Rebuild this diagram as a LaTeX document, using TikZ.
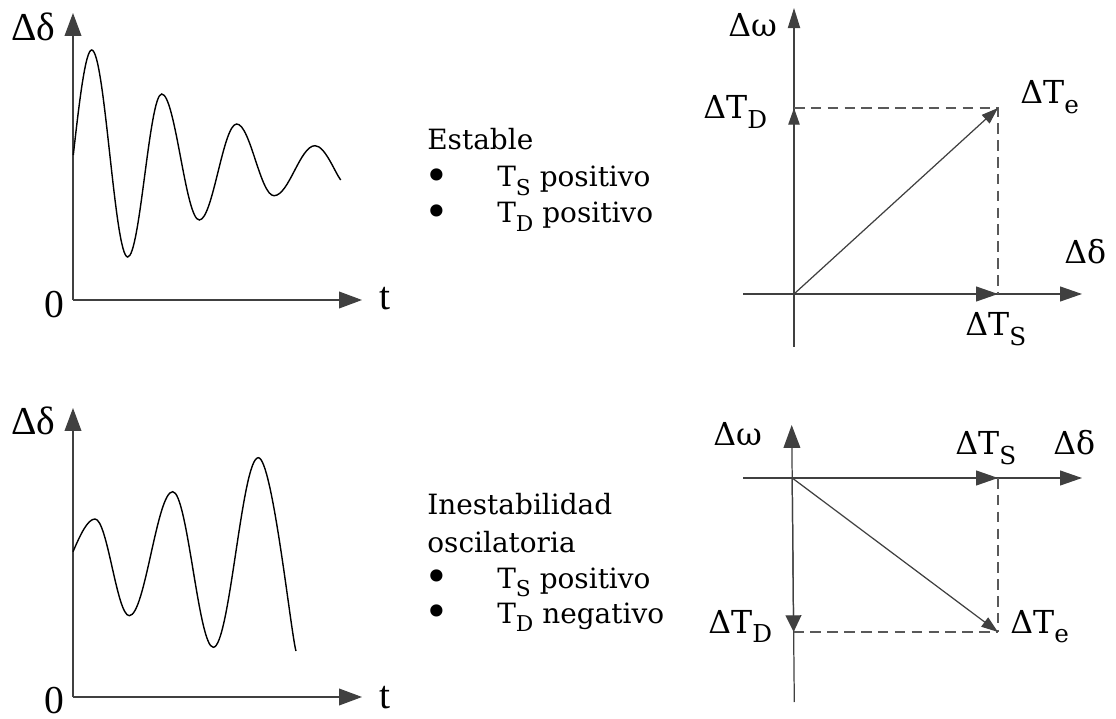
\documentclass[tikz,border=0pt]{standalone}
\usepackage{fontspec}
\setmainfont{DejaVu Serif}
\newfontfamily\tnr{Liberation Serif}
\usetikzlibrary{arrows.meta}
\newcommand{\sbs}[1]{\raisebox{-0.3em}{\scalebox{0.78}{#1}}}
\newcommand{\bul}{\smash{\raisebox{-0.12em}{\scalebox{1.5}{•}}}}
\tikzset{
  axis/.style={draw=black!75, line width=0.7pt},
  tipbig/.style={-{Triangle[length=13pt,width=9.5pt]}},
  tipmid/.style={-{Triangle[length=12.5pt,width=8.5pt]}},
  tipthin/.style={-{Triangle[length=11.5pt,width=7pt]}},
  tipsmall/.style={-{Triangle[length=9.5pt,width=6.5pt]}},
  tipdown/.style={-{Triangle[length=9.5pt,width=9pt]}},
  proj/.style={draw=black!65, line width=0.7pt, dash pattern=on 6pt off 3.6pt},
  curve/.style={draw=black, line width=0.8pt},
  txt/.style={anchor=base west, inner sep=0pt, font=\fontsize{15.9}{19}\selectfont},
  lbl/.style={anchor=base west, inner sep=0pt, font=\fontsize{18}{21}\selectfont},
  glbl/.style={anchor=base west, inner sep=0pt, font=\tnr\fontsize{22.5}{25}\selectfont}
}

\begin{document}
\begin{tikzpicture}[x=0.02cm, y=-0.02cm]
\useasboundingbox (0,0) rectangle (1116,719);

%% time response, stable
\coordinate (oa) at (73,300);
\coordinate (ya) at (73,13);
\coordinate (xa) at (362,300);
\path[axis, tipbig] (oa) -- (ya);
\path[axis, tipbig] (oa) -- (xa);
\node[glbl] (da) at (11,41) {Δδ};
\node[glbl] (za) at (44,318) {0};
\node[glbl] (ta) at (379,310) {t};
\draw[curve] (73.3,155) .. controls +(6.1,-54.4) and +(-6.2,0) .. (91.7,50)
  .. controls +(13.1,0) and +(-13.1,0) .. (127.7,257)
  .. controls +(12.4,0) and +(-12.4,0) .. (161.7,94)
  .. controls +(13.7,0) and +(-13.7,0) .. (199.3,220)
  .. controls +(13.6,0) and +(-13.6,0) .. (236.7,124)
  .. controls +(13.6,0) and +(-13.6,0) .. (274,195.7)
  .. controls +(14.9,0) and +(-14.9,0) .. (315,145.7)
  .. controls +(10,0) and +(-6,-8) .. (340.7,180);

%% time response, oscillatory instability
\coordinate (ob) at (73,697);
\coordinate (yb) at (73,408);
\coordinate (xb) at (362,697);
\path[axis, tipbig] (ob) -- (yb);
\path[axis, tipbig] (ob) -- (xb);
\node[glbl] (db) at (11,435) {Δδ};
\node[glbl] (zb) at (44,713) {0};
\node[glbl] (tb) at (379,708) {t};
\draw[curve] (73,551.7) .. controls +(7.3,-16.9) and +(-7.4,0) .. (95,519)
  .. controls +(12.5,0) and +(-12.5,0) .. (129.3,615.7)
  .. controls +(15.8,0) and +(-15.8,0) .. (172.7,491.7)
  .. controls +(14.8,0) and +(-14.8,0) .. (213.3,647.3)
  .. controls +(16.4,0) and +(-16.4,0) .. (258.3,457.7)
  .. controls +(14,0) and +(-5,-17) .. (296,651);

%% captions
\node[txt] (est) at (427,150) {Estable};
\node[txt] (ea) at (424,187) {\bul};
\node[txt] (eb) at (424,223) {\bul};
\node[txt] (es) at (497,187) {T\sbs{S} positivo};
\node[txt] (ed) at (497,223) {T\sbs{D} positivo};

\node[txt] (ins) at (427,515) {Inestabilidad};
\node[txt] (osc) at (427,552) {oscilatoria};
\node[txt] (ia) at (424,588) {\bul};
\node[txt] (ib) at (424,623) {\bul};
\node[txt] (is) at (497,588) {T\sbs{S} positivo};
\node[txt] (id) at (497,623) {T\sbs{D} negativo};

%% phasor, stable
\coordinate (oc) at (794,294);
\coordinate (wc) at (794,8);
\coordinate (wc0) at (794,347);
\coordinate (dc) at (1082,294);
\coordinate (dc0) at (743,294);
\coordinate (sc) at (998,294);
\coordinate (tc) at (794,108);
\coordinate (ec) at (998,108);
\path[axis, tipthin] (wc0) -- (wc);
\path[axis, tipmid] (dc0) -- (dc);
\path[axis, tipmid] (oc) -- (sc);
\path[axis, tipsmall] (oc) -- (tc);
\path[proj] (tc) -- (ec) -- (sc);
\path[axis, tipsmall] (oc) -- (ec);
\node[lbl] (lwc) at (728,37) {Δω};
\node[lbl] (ltc) at (703,119) {ΔT\sbs{D}};
\node[lbl] (lec) at (1020,104) {ΔT\sbs{e}};
\node[lbl] (ldc) at (1064,264) {Δδ};
\node[lbl] (lsc) at (965,336) {ΔT\sbs{S}};

%% phasor, unstable
\coordinate (od) at (792.2,478);
\coordinate (wd) at (791.7,425);
\coordinate (wd0) at (794.3,702);
\coordinate (dd) at (1082,478);
\coordinate (dd0) at (743,478);
\coordinate (sd) at (998,478);
\coordinate (td) at (793.6,632);
\coordinate (ed) at (998,632);
\path[axis, tipbig] (wd0) -- (wd);
\path[axis, tipmid] (dd0) -- (dd);
\path[axis, tipmid] (od) -- (sd);
\path[axis, tipdown] (od) -- (td);
\path[proj] (td) -- (ed);
\path[proj] (sd) -- (ed);
\path[axis, tipsmall] (od) -- (ed);
\node[lbl] (lwd) at (713,446) {Δω};
\node[lbl] (lsd) at (955,455) {ΔT\sbs{S}};
\node[lbl] (ldd) at (1053,455) {Δδ};
\node[lbl] (ltd) at (708,633) {ΔT\sbs{D}};
\node[lbl] (led) at (1010,633) {ΔT\sbs{e}};
\end{tikzpicture}
\end{document}
